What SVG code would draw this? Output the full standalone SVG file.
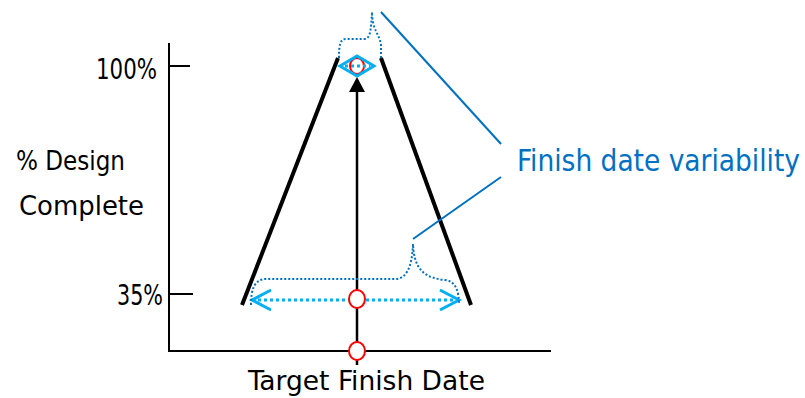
<svg xmlns="http://www.w3.org/2000/svg" width="805" height="398" viewBox="0 0 805 398">
<style>
text{font-family:"DejaVu Sans Condensed","DejaVu Sans","Liberation Sans",sans-serif;font-stretch:condensed;fill:#000}
.ax{stroke:#000;stroke-width:2;fill:none}
.edge{stroke:#000;stroke-width:4;fill:none;stroke-linecap:butt}
.cy{stroke:#00B0F0;stroke-width:3;fill:none}
.cyd{stroke:#00B0F0;stroke-width:3;fill:none;stroke-dasharray:3 3}
.br{stroke:#0070C0;stroke-width:2;fill:none;stroke-dasharray:2 2}
.lead{stroke:#0070C0;stroke-width:2;fill:none}
.pt{stroke:#FF0000;stroke-width:2;fill:#fff}
</style>
<g id="axes">
<line class="ax" x1="169" y1="43" x2="169" y2="352"/>
<line class="ax" x1="168" y1="351" x2="551" y2="351"/>
<line class="ax" x1="169" y1="66" x2="190" y2="66"/>
<line class="ax" x1="169" y1="294" x2="193" y2="294"/>
</g>
<g id="labels">
<text x="96" y="79" font-size="29" textLength="61" lengthAdjust="spacingAndGlyphs">100%</text>
<text x="117" y="305" font-size="29" textLength="46" lengthAdjust="spacingAndGlyphs">35%</text>
<text x="16" y="170" font-size="26" textLength="109" lengthAdjust="spacingAndGlyphs">% Design</text>
<text x="19" y="215" font-size="26" textLength="125" lengthAdjust="spacingAndGlyphs">Complete</text>
<text x="248" y="390" font-size="27" textLength="237" lengthAdjust="spacingAndGlyphs">Target Finish Date</text>
<text x="517" y="171" font-size="30" textLength="283" lengthAdjust="spacingAndGlyphs" style="fill:#0070C0">Finish date variability</text>
</g>
<g id="funnel">
<line class="edge" x1="242" y1="305" x2="338" y2="58"/>
<line class="edge" x1="381" y1="58" x2="471" y2="305"/>
</g>
<g id="connectors">
<line x1="357" y1="365" x2="357" y2="92" stroke="#000" stroke-width="2.5"/>
<path d="M349,92 L357,77 L365,92 Z" fill="#000"/>
<line class="cyd" x1="252" y1="300" x2="459" y2="300"/>
<polyline class="cy" points="271,290 252,300 271,310"/>
<polyline class="cy" points="440,290 459,300 440,310"/>
<path class="br" d="M251,305 C251,290 254,280 265,279 L395,279 C405,279 412,270 413,244 C414,270 425,278 445,280 C455,281 459,290 459,305"/>
<path class="br" d="M339,58 C339,45 340,39 346,39 L364,39 C370,39 371,32 372,12 C372,30 380,35 381,45 L381,58"/>
<line class="lead" x1="381" y1="12" x2="501" y2="144"/>
<line class="lead" x1="501" y1="177" x2="413" y2="239"/>
</g>
<g id="points">
<ellipse class="pt" cx="357" cy="66" rx="7" ry="8" style="fill:none"/>
<polygon points="340,66 357,56 374,66 357,76" fill="none" stroke="#00B0F0" stroke-width="3" stroke-linejoin="miter"/>
<line class="cyd" x1="345" y1="66" x2="370" y2="66"/>
<ellipse class="pt" cx="357" cy="299" rx="8" ry="9"/>
<ellipse class="pt" cx="357" cy="351" rx="8" ry="9"/>
</g>
</svg>
